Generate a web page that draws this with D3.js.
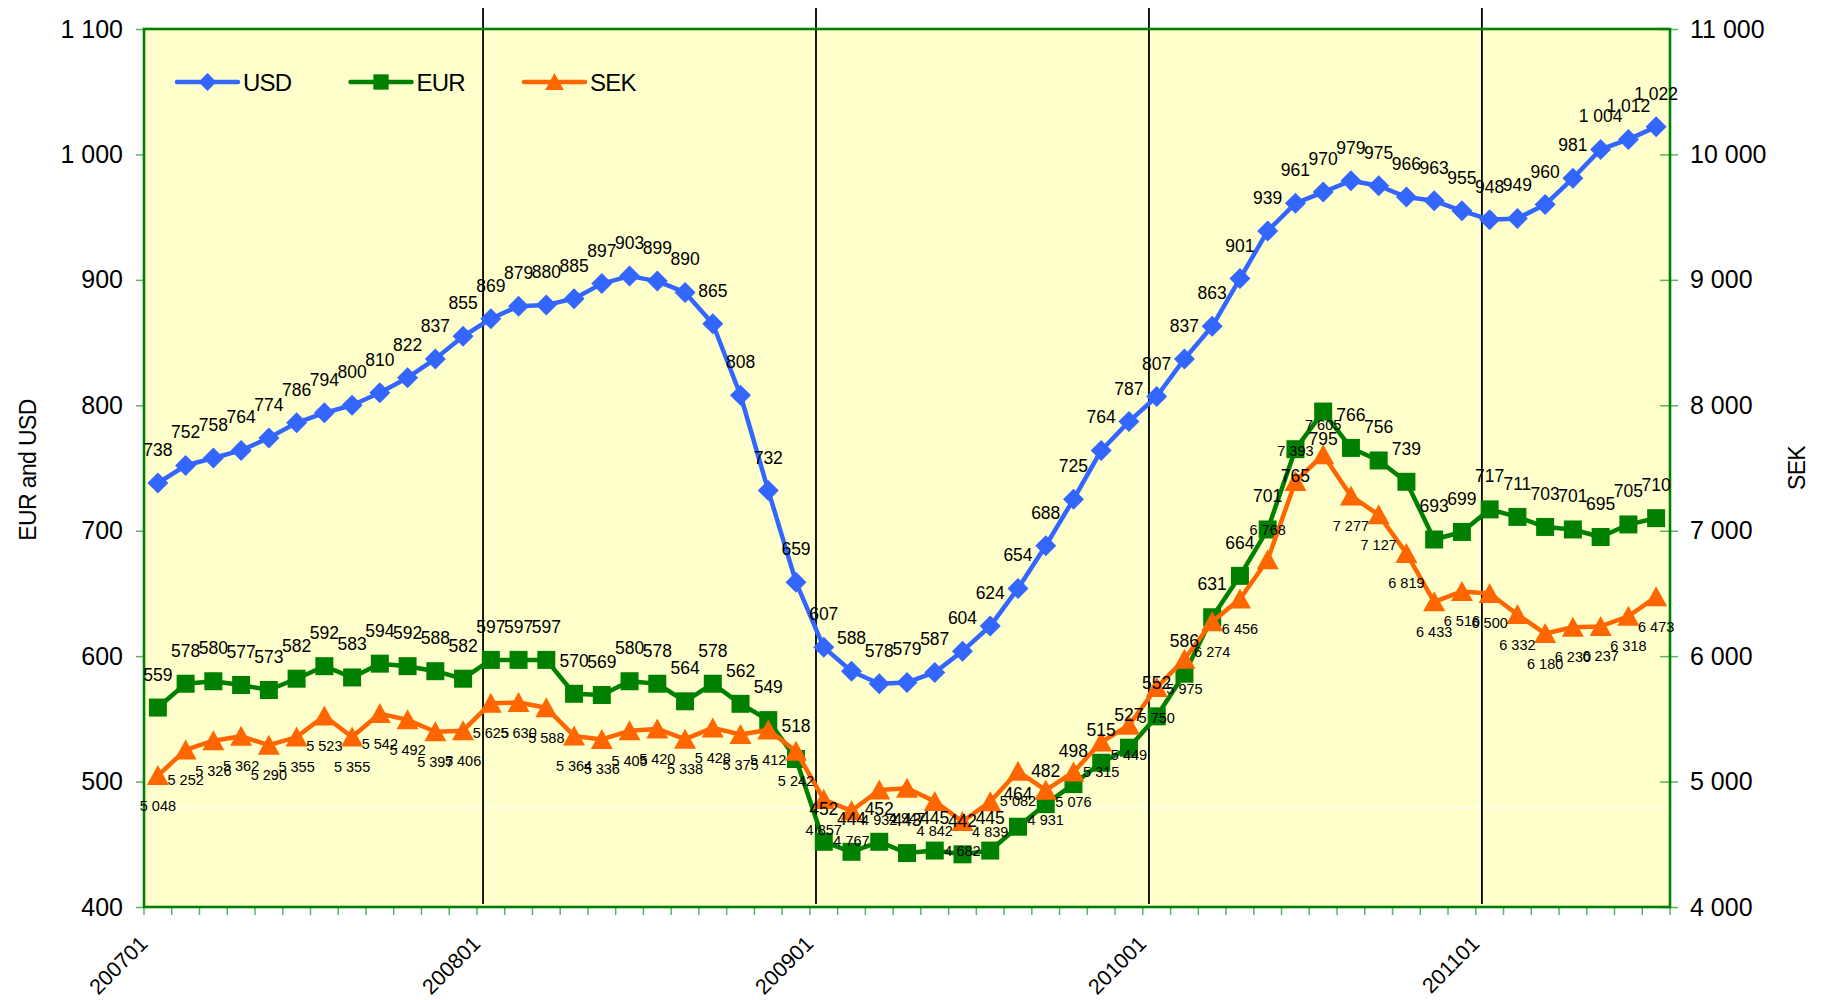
<!DOCTYPE html>
<html><head><meta charset="utf-8">
<script src="https://cdn.jsdelivr.net/npm/d3@7"></script>
<style>
body{margin:0;background:#fff;}
text{font-family:"Liberation Sans",Arial,sans-serif;fill:#000;}
</style>
</head><body>
<svg id="chart" width="1823" height="1000"></svg>
<script>
const months = [
 "200701","200702","200703","200704","200705","200706","200707","200708","200709","200710","200711","200712",
 "200801","200802","200803","200804","200805","200806","200807","200808","200809","200810","200811","200812",
 "200901","200902","200903","200904","200905","200906","200907","200908","200909","200910","200911","200912",
 "201001","201002","201003","201004","201005","201006","201007","201008","201009","201010","201011","201012",
 "201101","201102","201103","201104","201105","201106","201107"];
const usd = [738,752,758,764,774,786,794,800,810,822,837,855,
 869,879,880,885,897,903,899,890,865,808,732,659,
 607,588,578,579,587,604,624,654,688,725,764,787,
 807,837,863,901,939,961,970,979,975,966,963,955,
 948,949,960,981,1004,1012,1022];
const eur = [559,578,580,577,573,582,592,583,594,592,588,582,
 597,597,597,570,569,580,578,564,578,562,549,518,
 452,444,452,443,445,442,445,464,482,498,515,527,
 552,586,631,664,701,765,795,766,756,739,693,699,
 717,711,703,701,695,705,710];
const sek = [5048,5252,5326,5362,5290,5355,5523,5355,5542,5492,5397,5406,
 5625,5630,5588,5364,5336,5405,5420,5338,5428,5375,5412,5242,
 4857,4767,4932,4947,4842,4682,4839,5082,4931,5076,5315,5449,
 5750,5975,6274,6456,6768,7393,7605,7277,7127,6819,6433,6516,
 6500,6332,6180,6230,6237,6318,6473];
const leftTicks = [400,500,600,700,800,900,1000,1100];
const rightTicks = [4000,5000,6000,7000,8000,9000,10000,11000];
const xTickLabels = ["200701","200801","200901","201001","201101"];
const yearLines = ["200801","200901","201001","201101"];
const eurLabelsBelow = ["201006","201007"];
const sekLabelsAbove = ["201005","201006","201007"];
const whiteLineValue = 479;
const seriesNames = ["USD","EUR","SEK"];
const leftTitle = "EUR and USD";
const rightTitle = "SEK";

const svg = d3.select("#chart");
const m = {left:144, right:1670, top:29, bottom:907};
const x = d3.scaleBand().domain(months).range([m.left, m.right]).padding(0);
const bw = x.bandwidth();
const xc = d => x(d) + bw/2;
const yL = d3.scaleLinear().domain([400,1100]).range([m.bottom, m.top]);
const yR = d3.scaleLinear().domain([4000,11000]).range([m.bottom, m.top]);
const loc = d3.formatLocale({decimal:",", thousands:" ", grouping:[3], currency:["",""]});
const fmt = loc.format(",");

const colors = {USD:"#3366FF", EUR:"#008000", SEK:"#FF6600"};
const series = [
  {name:"USD", values:usd, y:yL, sym:"diamond"},
  {name:"EUR", values:eur, y:yL, sym:"square"},
  {name:"SEK", values:sek, y:yR, sym:"triangle"}
];

// plot background
svg.append("rect").attr("x", m.left).attr("y", m.top)
  .attr("width", m.right - m.left).attr("height", m.bottom - m.top)
  .attr("fill", "#FFFFCC");

// faint white horizontal line
svg.append("line").attr("x1", m.left).attr("x2", m.right)
  .attr("y1", yL(whiteLineValue)).attr("y2", yL(whiteLineValue))
  .attr("stroke", "#ffffff").attr("stroke-width", 1.2);

// year separator lines
svg.append("g").selectAll("line").data(yearLines).join("line")
  .attr("x1", d => x(d) + bw*0.22).attr("x2", d => x(d) + bw*0.22)
  .attr("y1", m.top - 21).attr("y2", m.bottom - 3)
  .attr("stroke", "#000").attr("stroke-width", 1.8);

// bottom tick marks at category boundaries
const boundaries = months.map(d => x(d)).concat([m.right]);
svg.append("g").selectAll("line").data(boundaries).join("line")
  .attr("x1", d => d).attr("x2", d => d)
  .attr("y1", m.bottom).attr("y2", m.bottom + 8)
  .attr("stroke", "#5fb35f").attr("stroke-width", 1.5);

// left axis
const gL = svg.append("g").attr("transform", `translate(${m.left},0)`)
  .call(d3.axisLeft(yL).tickValues(leftTicks).tickSize(8).tickPadding(13).tickFormat(fmt));
gL.select(".domain").remove();
gL.selectAll(".tick line").attr("stroke", "#5fb35f").attr("stroke-width", 1.5);
gL.selectAll(".tick text").style("font-size", "25px").style("font-family", "Liberation Sans, Arial, sans-serif");

// right axis
const gR = svg.append("g").attr("transform", `translate(${m.right},0)`)
  .call(d3.axisRight(yR).tickValues(rightTicks).tickSize(8).tickPadding(12).tickFormat(fmt));
gR.select(".domain").remove();
gR.selectAll(".tick line").attr("x1", -10).attr("x2", 8).attr("stroke", "#5fb35f").attr("stroke-width", 1.5);
gR.selectAll(".tick text").style("font-size", "25px").style("font-family", "Liberation Sans, Arial, sans-serif");

// plot border
svg.append("rect").attr("x", m.left).attr("y", m.top)
  .attr("width", m.right - m.left).attr("height", m.bottom - m.top)
  .attr("fill", "none").attr("stroke", "#008000").attr("stroke-width", 2.6);

// x tick labels
svg.append("g").selectAll("text").data(xTickLabels).join("text")
  .attr("transform", d => `translate(${xc(d) - 9},${m.bottom + 38}) rotate(-45)`)
  .attr("text-anchor", "end")
  .style("font-size", "21.5px")
  .text(d => d);

// axis titles
svg.append("text").attr("transform", `translate(36,${(m.top+m.bottom)/2 + 2}) rotate(-90)`)
  .attr("text-anchor", "middle").style("font-size", "23px").style("letter-spacing", "-0.6px")
  .text(leftTitle);
svg.append("text").attr("transform", `translate(1805,${(m.top+m.bottom)/2}) rotate(-90)`)
  .attr("text-anchor", "middle").style("font-size", "23px").style("letter-spacing", "-0.6px")
  .text(rightTitle);

function markerPath(sym) {
  if (sym === "diamond") return "M0,-10.5L10.5,0L0,10.5L-10.5,0Z";
  if (sym === "square") return d3.symbol(d3.symbolSquare, 18*18)();
  return "M0,-10.5L11,9.5L-11,9.5Z";
}

// lines + markers
series.forEach(s => {
  const line = d3.line().x((d,i) => xc(months[i])).y(d => s.y(d));
  const g = svg.append("g");
  g.append("path").datum(s.values).attr("d", line)
    .attr("fill", "none").attr("stroke", colors[s.name]).attr("stroke-width", 4.5)
    .attr("stroke-linejoin", "round");
  g.selectAll("path.mk").data(s.values).join("path").attr("class", "mk")
    .attr("d", markerPath(s.sym))
    .attr("transform", (d,i) => `translate(${xc(months[i])},${s.y(d)})`)
    .attr("fill", colors[s.name]);
});

// data labels
function labelY(s, d, i) {
  const mo = months[i];
  if (s.name === "SEK") {
    return sekLabelsAbove.includes(mo) ? s.y(d) - 25 : s.y(d) + 35;
  }
  if (s.name === "EUR" && eurLabelsBelow.includes(mo)) return s.y(d) + 33;
  return s.y(d) - 27;
}
series.forEach(s => {
  svg.append("g").selectAll("text").data(s.values).join("text")
    .attr("x", (d,i) => xc(months[i]))
    .attr("y", (d,i) => labelY(s, d, i))
    .attr("text-anchor", "middle")
    .style("font-size", s.name === "SEK" ? "14.5px" : "17.5px")
    .text(d => fmt(d));
});

// legend
const lg = svg.append("g");
seriesNames.forEach((n, i) => {
  const s = series.find(q => q.name === n);
  const lx = 177 + i*173.5, ly = 82;
  lg.append("line").attr("x1", lx).attr("x2", lx + 61).attr("y1", ly).attr("y2", ly)
    .attr("stroke", colors[n]).attr("stroke-width", 4.5).attr("stroke-linecap", "round");
  lg.append("path").attr("d", markerPath(s.sym)).attr("fill", colors[n])
    .attr("transform", `translate(${lx + 30.5},${ly}) scale(0.85)`);
  lg.append("text").attr("x", lx + 66).attr("y", ly + 9)
    .style("font-size", "24px").style("letter-spacing", "-0.8px").text(n);
});
</script>
</body></html>
